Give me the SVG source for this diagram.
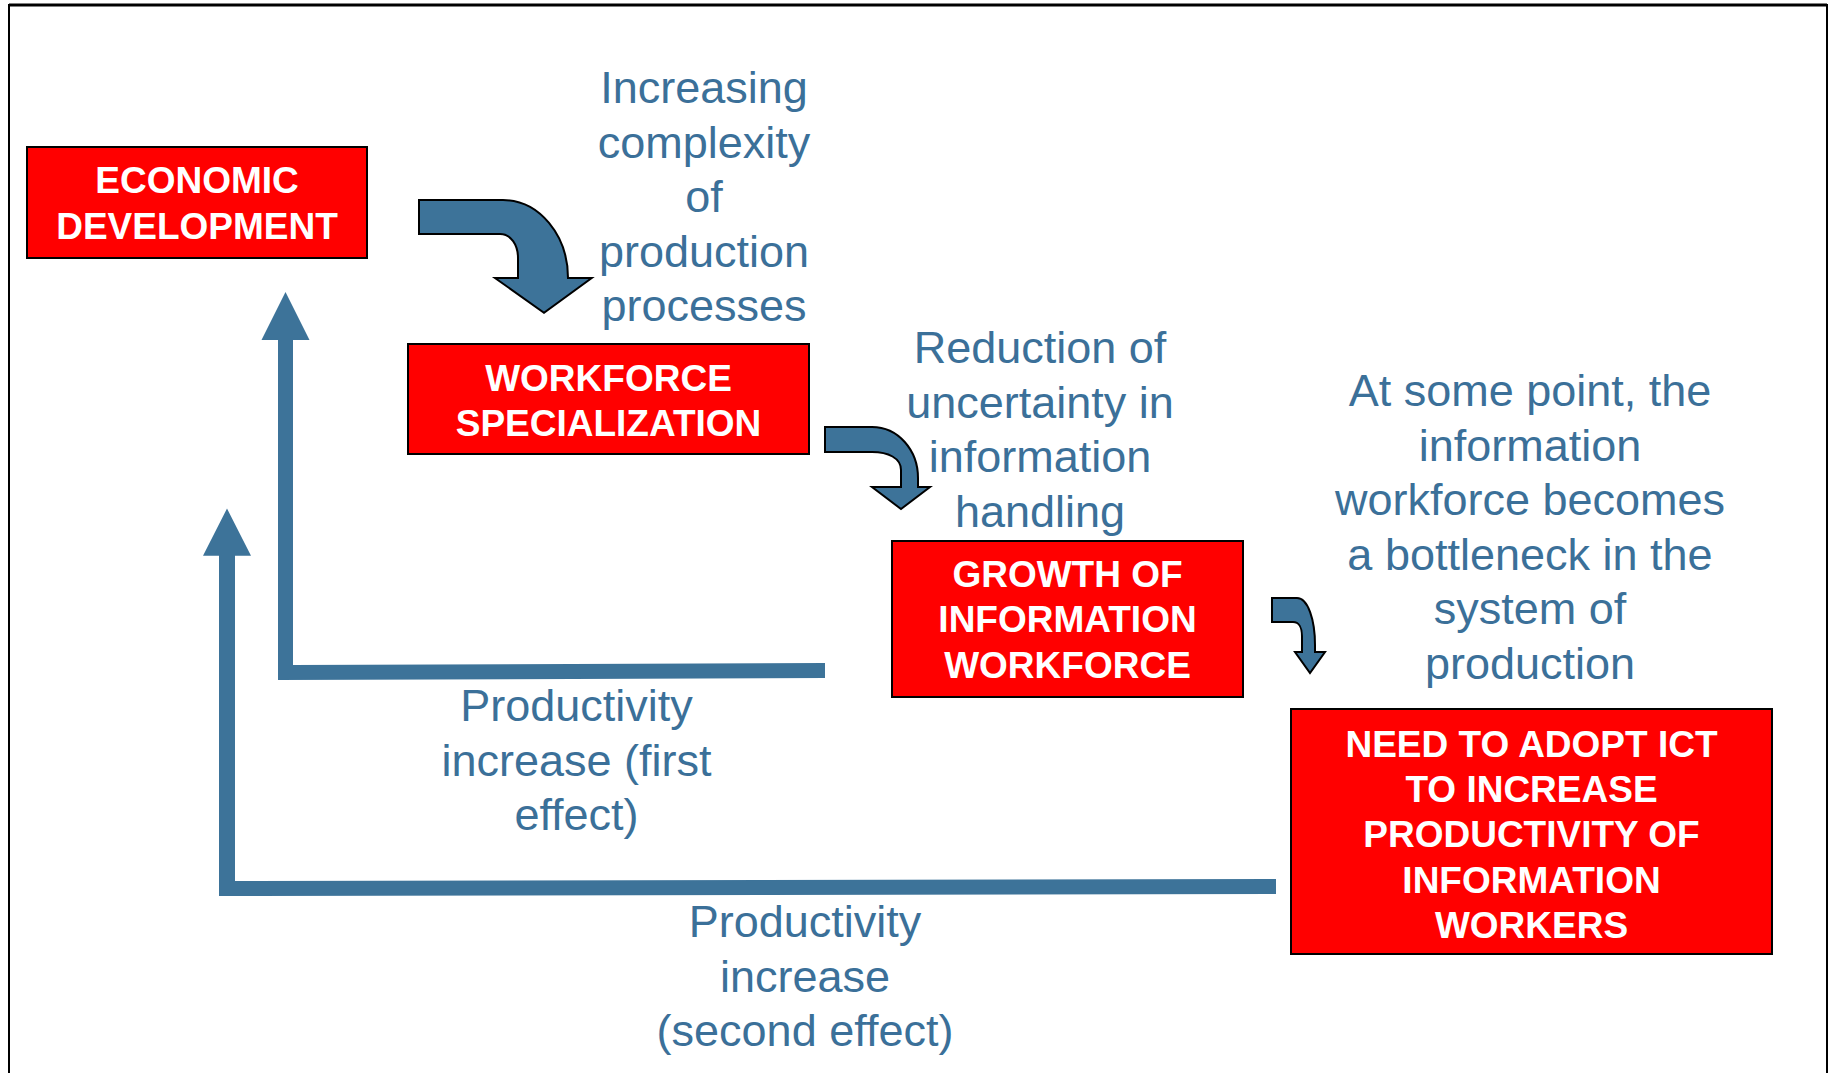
<svg xmlns="http://www.w3.org/2000/svg" width="1830" height="1073" viewBox="0 0 1830 1073">
<style>
.box{fill:#ff0000;stroke:#000;stroke-width:2}
.bt{font-family:"Liberation Sans",Arial,sans-serif;font-weight:bold;font-size:37px;fill:#fff;text-anchor:middle}
.lt{font-family:"Liberation Sans",Arial,sans-serif;font-size:45px;fill:#3b7099;text-anchor:middle}
.bent{fill:#3d7399;stroke:#000;stroke-width:2;stroke-linejoin:miter}
.fb{fill:#3d7399;stroke:none}
</style>
<rect width="1830" height="1073" fill="#fff"/>
<path d="M9,1074 V5 H1827 V1074" fill="none" stroke="#000" stroke-width="2"/>
<line x1="9" y1="5" x2="1827" y2="5" stroke="#000" stroke-width="3"/>

<g id="connectors">
  <path class="bent" d="M419,200 H503 C539,200 568,235 568,278 H591.7 L544,312.7 L495,278 H518 V258 C518,245 511,234 500,234 H419 Z"/>
  <path class="bent" d="M825,427 H872 C898,427 918,450 918,478 V487 H930 L901,509 L872,487 H901 V470 C901,458 888,452 872,452 H825 Z"/>
  <path class="bent" d="M1272,598 H1297 C1308,598 1315,620 1315,645 V652 H1325 L1310,673 L1295,652 H1302 V636 C1302,628 1299,622 1293,622 H1272 Z"/>
  <polygon class="fb" points="285.5,292 309.5,340 293,340 293,665 825,663 825,678 278,680 278,340 261.5,340"/>
  <polygon class="fb" points="227,508.5 251,555.7 235,555.7 235,881 1276,879 1276,894 219,896 219,555.7 203,555.7"/>
</g>

<g id="economic-development">
  <rect class="box" x="27" y="147" width="340" height="111"/>
  <text class="bt" x="197" y="193">ECONOMIC</text>
  <text class="bt" x="197" y="239">DEVELOPMENT</text>
</g>
<g id="workforce-specialization">
  <rect class="box" x="408" y="344" width="401" height="110"/>
  <text class="bt" x="608.5" y="391">WORKFORCE</text>
  <text class="bt" x="608.5" y="436">SPECIALIZATION</text>
</g>
<g id="growth-information-workforce">
  <rect class="box" x="892" y="541" width="351" height="156"/>
  <text class="bt" x="1067.5" y="587">GROWTH OF</text>
  <text class="bt" x="1067.5" y="632">INFORMATION</text>
  <text class="bt" x="1067.5" y="678">WORKFORCE</text>
</g>
<g id="need-adopt-ict">
  <rect class="box" x="1291" y="709" width="481" height="245"/>
  <text class="bt" x="1531.5" y="757">NEED TO ADOPT ICT</text>
  <text class="bt" x="1531.5" y="802">TO INCREASE</text>
  <text class="bt" x="1531.5" y="847">PRODUCTIVITY OF</text>
  <text class="bt" x="1531.5" y="893">INFORMATION</text>
  <text class="bt" x="1531.5" y="938">WORKERS</text>
</g>

<g id="label-complexity">
  <text class="lt" x="704" y="103">Increasing</text>
  <text class="lt" x="704" y="157.5">complexity</text>
  <text class="lt" x="704" y="212">of</text>
  <text class="lt" x="704" y="266.5">production</text>
  <text class="lt" x="704" y="321">processes</text>
</g>
<g id="label-uncertainty">
  <text class="lt" x="1040" y="363">Reduction of</text>
  <text class="lt" x="1040" y="417.5">uncertainty in</text>
  <text class="lt" x="1040" y="472">information</text>
  <text class="lt" x="1040" y="526.5">handling</text>
</g>
<g id="label-bottleneck">
  <text class="lt" x="1530" y="406">At some point, the</text>
  <text class="lt" x="1530" y="460.5">information</text>
  <text class="lt" x="1530" y="515">workforce becomes</text>
  <text class="lt" x="1530" y="569.5">a bottleneck in the</text>
  <text class="lt" x="1530" y="624">system of</text>
  <text class="lt" x="1530" y="678.5">production</text>
</g>
<g id="label-first-effect">
  <text class="lt" x="576.5" y="721">Productivity</text>
  <text class="lt" x="576.5" y="775.5">increase (first</text>
  <text class="lt" x="576.5" y="830">effect)</text>
</g>
<g id="label-second-effect">
  <text class="lt" x="805" y="937">Productivity</text>
  <text class="lt" x="805" y="991.5">increase</text>
  <text class="lt" x="805" y="1046">(second effect)</text>
</g>
</svg>
